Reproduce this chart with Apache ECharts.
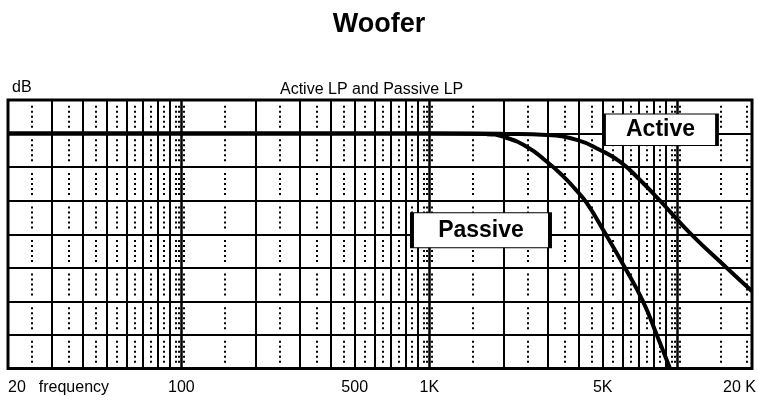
<!DOCTYPE html>
<html><head><meta charset="utf-8">
<script src="https://cdn.jsdelivr.net/npm/echarts@6/dist/echarts.min.js"></script>
<style>html,body{margin:0;padding:0;background:#fff}#c{width:758px;height:400px}</style>
</head><body><div id="c"></div>
<script>
// Frequency (Hz) / level (dB)
const passiveF  = [20, 1000, 1700, 1980, 2470, 2970, 3460, 3870, 4310, 5110, 6150, 7270, 8250, 9340];
const passiveDb = [0, 0, -0.05, -0.28, -1.17, -2.5, -3.8, -4.95, -6.2, -8.9, -12.0, -15.0, -17.96, -21];
const activeF   = [20, 1500, 2000, 2970, 3930, 4880, 5870, 7070, 8510, 11250, 15800, 20000];
const activeDb  = [0, 0, -0.03, -0.13, -0.57, -1.47, -2.51, -4.15, -6.0, -8.9, -12.0, -14.1];

// grid lines of the log paper
const solidLines  = [30,40,50,60,70,80,90, 200,300,400,500,600,700,800,900, 2000,3000,4000,5000,6000,7000,8000,9000];
const decadeLines = [100, 1000, 10000];
const dottedLines = [20,25,35,45,55,65,75,85,95,97.5,102.5,
                     150,250,350,450,550,650,750,850,950,975,1025,
                     1500,2500,3500,4500,5500,6500,7500,8500,9500,9750,10250,
                     15000,19000];
// x tick labels
const tickValues = [20, 100, 500, 1000, 5000, 20000];
const tickTexts  = ['20', '100', '500', '1K', '5K', '20 K'];

const FONT = 'Liberation Sans, Arial, sans-serif';
const pitch = 268.5 / 8;
const dotPattern = [2,3,2,3,2,3,2,3,2, pitch - 22];

const chart = echarts.init(document.getElementById('c'), null, {renderer: 'canvas'});

const gridLines = [];
solidLines.forEach(v => gridLines.push({xAxis: v, lineStyle: {type: 'solid', width: 2, color: '#000'}}));
decadeLines.forEach(v => gridLines.push({xAxis: v, lineStyle: {type: 'solid', width: 2.5, color: '#000'}}));
dottedLines.forEach(v => gridLines.push({xAxis: v, lineStyle: {type: dotPattern, dashOffset: pitch - 5.8, width: 2, color: '#000'}}));

const labelLines = tickValues.map((v, i) => {
  const item = {xAxis: v,
    label: {show: true, position: 'start', distance: 11, color: '#000', fontSize: 16, fontFamily: FONT,
            formatter: tickTexts[i]}};
  if (i === 0) {
    item.label.align = 'left';
    item.label.formatter = '{a|' + tickTexts[i] + '}{b|frequency}';
    item.label.rich = {a: {fontSize: 16, fontFamily: FONT, color: '#000'},
                       b: {fontSize: 16, fontFamily: FONT, color: '#000', padding: [0,0,0,13]}};
  } else if (i === tickValues.length - 1) {
    item.label.formatter = '{a|' + tickTexts[i] + '}';
    item.label.rich = {a: {fontSize: 16, fontFamily: FONT, color: '#000', padding: [0,25,0,0]}};
  }
  return item;
});

chart.setOption({
  animation: false,
  backgroundColor: '#fff',
  title: [
    {text: 'Woofer', left: 'center', top: 6,
     textStyle: {fontSize: 27, fontWeight: 'bold', fontFamily: FONT, color: '#000'}},
    {text: 'Active LP and Passive LP', left: 275, top: 77,
     textStyle: {fontSize: 16, fontWeight: 'normal', fontFamily: FONT, color: '#000'}}
  ],
  grid: {left: 8, right: 6, top: 100, bottom: 31.5, show: true, borderColor: '#000', borderWidth: 3, backgroundColor: 'transparent'},
  xAxis: {type: 'log', logBase: 10, min: 20, max: 20000,
          axisLine: {show: false}, axisTick: {show: false}, axisLabel: {show: false}, splitLine: {show: false}},
  yAxis: {type: 'value', min: -21, max: 3, interval: 3,
          name: 'dB', nameLocation: 'end', nameGap: 12,
          nameTextStyle: {align: 'left', verticalAlign: 'middle', padding: [0,0,0,4], fontSize: 16, fontFamily: FONT, color: '#000'},
          axisLine: {show: false}, axisTick: {show: false}, axisLabel: {show: false},
          splitLine: {show: true, lineStyle: {color: '#000', width: 2}}},
  series: [
    {type: 'line', name: 'paper', data: [], z: 1, silent: true,
     markLine: {silent: true, symbol: ['none','none'], animation: false, label: {show: false},
                data: gridLines}},
    {type: 'line', name: 'ticks', data: [], z: 1, silent: true,
     markLine: {silent: true, symbol: ['none','none'], animation: false,
                lineStyle: {color: 'rgba(0,0,0,0)', width: 1, type: 'solid'},
                label: {show: true, position: 'start', distance: 11, color: '#000', fontSize: 16, fontFamily: FONT},
                data: labelLines}},
    {type: 'line', name: 'Passive', z: 3, data: passiveF.map((f, i) => [f, passiveDb[i]]),
     showSymbol: false, smooth: 0.5,
     lineStyle: {color: '#000', width: 4}, clip: true,
     markPoint: {silent: true, symbol: 'rect', symbolSize: [138, 35],
       itemStyle: {color: '#fff', borderColor: '#000', borderWidth: 2},
       label: {show: true, position: 'inside', formatter: 'Passive', fontSize: 23, fontWeight: 'bold', fontFamily: FONT, color: '#000'},
       data: [{coord: [1615, -8.64]}]}},
    {type: 'line', name: 'Active', z: 3, data: activeF.map((f, i) => [f, activeDb[i]]),
     showSymbol: false, smooth: 0.5,
     lineStyle: {color: '#000', width: 4}, clip: true,
     markPoint: {silent: true, symbol: 'rect', symbolSize: [113, 31.5],
       itemStyle: {color: '#fff', borderColor: '#000', borderWidth: 2},
       label: {show: true, position: 'inside', formatter: 'Active', fontSize: 23, fontWeight: 'bold', fontFamily: FONT, color: '#000'},
       data: [{coord: [8552, 0.345]}]}}
  ]
});
</script></body></html>
